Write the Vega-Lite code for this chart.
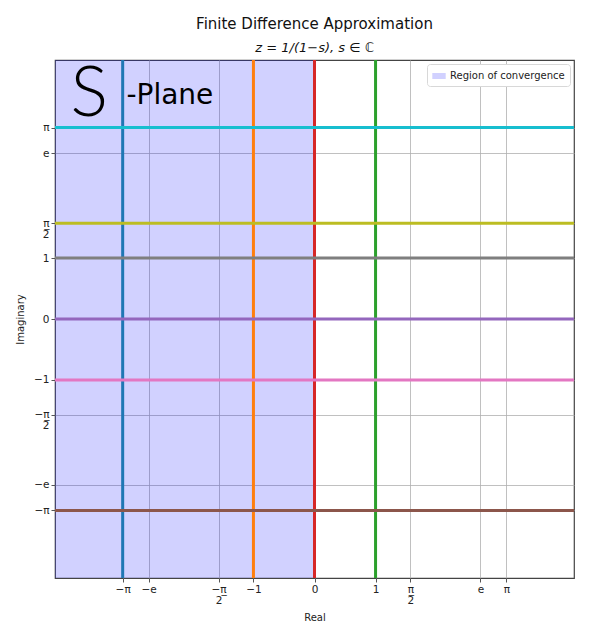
{
  "$schema": "https://vega.github.io/schema/vega-lite/v6.json",
  "autosize": "none",
  "width": 519,
  "height": 518,
  "padding": {"left": 55, "top": 60, "right": 26, "bottom": 50},
  "background": "white",
  "config": {
    "font": "DejaVu Sans",
    "view": {"stroke": "#444", "strokeWidth": 1.2},
    "axis": {
      "grid": true,
      "gridColor": "#b0b0b0",
      "gridWidth": 0.8,
      "domain": false,
      "tickColor": "#555",
      "tickSize": 4,
      "labelFont": "DejaVu Sans",
      "labelFontSize": 10.5,
      "labelColor": "#222",
      "titleFont": "DejaVu Sans",
      "titleFontSize": 10,
      "titleFontWeight": "normal",
      "titleColor": "#222",
      "labelLineHeight": 11
    }
  },
  "title": {
    "text": "Finite Difference Approximation",
    "subtitle": "z = 1/(1−s), s ∈ ℂ",
    "font": "DejaVu Sans",
    "fontSize": 15,
    "fontWeight": "normal",
    "color": "#111",
    "subtitleFont": "DejaVu Sans",
    "subtitleFontSize": 13,
    "subtitleFontStyle": "italic",
    "subtitleColor": "#111",
    "subtitlePadding": 10,
    "anchor": "middle",
    "offset": 4
  },
  "datasets": {
    "region": [{"x0": -4.25, "x1": 0, "label": "Region of convergence"}],
    "vlines": [
      {"name": "a", "x": -3.141592653589793},
      {"name": "b", "x": -1},
      {"name": "c", "x": 0},
      {"name": "d", "x": 1}
    ],
    "hlines": [
      {"name": "e", "y": 3.141592653589793},
      {"name": "f", "y": 1.5707963267948966},
      {"name": "g", "y": 1},
      {"name": "h", "y": 0},
      {"name": "i", "y": -1},
      {"name": "j", "y": -3.141592653589793}
    ],
    "texts": [
      {"t": "S", "x": -3.69, "y": 3.67, "kind": "big"},
      {"t": "-Plane", "x": -3.08, "y": 3.66, "kind": "small"}
    ]
  },
  "encoding": {},
  "layer": [
    {
      "data": {"name": "region"},
      "mark": {"type": "rect", "opacity": 0.18, "y": 0, "y2": {"expr": "height"}},
      "encoding": {
        "x": {
          "field": "x0", "type": "quantitative",
          "scale": {"domain": [-4.25, 4.25], "nice": false, "zero": false},
          "axis": {
            "title": "Real",
            "titlePadding": 7,
            "values": [-3.141592653589793, -2.718281828459045, -1.5707963267948966, -1, 0, 1, 1.5707963267948966, 2.718281828459045, 3.141592653589793],
            "labelExpr": "abs(datum.value + PI) < 0.001 ? '−π' : abs(datum.value + E) < 0.001 ? '−e' : abs(datum.value + PI/2) < 0.001 ? ['−π̲', '  2'] : abs(datum.value + 1) < 0.001 ? '−1' : abs(datum.value) < 0.001 ? '0' : abs(datum.value - 1) < 0.001 ? '1' : abs(datum.value - PI/2) < 0.001 ? ['π̲', '2'] : abs(datum.value - E) < 0.001 ? 'e' : 'π'"
          }
        },
        "x2": {"field": "x1"},
        "fill": {
          "field": "label", "type": "nominal",
          "scale": {"range": ["blue"]},
          "legend": {
            "title": null,
            "orient": "top-right",
            "offset": 4,
            "symbolType": "M-1,-0.45H1V0.45H-1Z",
            "symbolSize": 180,
            "symbolOpacity": 0.18,
            "symbolStrokeWidth": 0,
            "labelFont": "DejaVu Sans",
            "labelFontSize": 10,
            "labelColor": "#222",
            "strokeColor": "#d8d8d8",
            "fillColor": "white",
            "cornerRadius": 3,
            "padding": 5
          }
        }
      }
    },
    {
      "data": {"name": "vlines"},
      "mark": {"type": "rule", "strokeWidth": 3},
      "encoding": {
        "x": {"field": "x", "type": "quantitative"},
        "color": {
          "field": "name", "type": "nominal",
          "scale": {"domain": ["a", "b", "c", "d", "e", "f", "g", "h", "i", "j"], "range": ["#1f77b4", "#ff7f0e", "#d62728", "#2ca02c", "#17becf", "#bcbd22", "#7f7f7f", "#9467bd", "#e377c2", "#8c564b"]},
          "legend": null
        }
      }
    },
    {
      "data": {"name": "hlines"},
      "mark": {"type": "rule", "strokeWidth": 3},
      "encoding": {
        "y": {
          "field": "y", "type": "quantitative",
          "scale": {"domain": [-4.25, 4.25], "nice": false, "zero": false},
          "axis": {
            "title": "Imaginary",
            "titlePadding": 8,
            "values": [-3.141592653589793, -2.718281828459045, -1.5707963267948966, -1, 0, 1, 1.5707963267948966, 2.718281828459045, 3.141592653589793],
            "labelExpr": "abs(datum.value + PI) < 0.001 ? '−π' : abs(datum.value + E) < 0.001 ? '−e' : abs(datum.value + PI/2) < 0.001 ? ['−π̲', '  2'] : abs(datum.value + 1) < 0.001 ? '−1' : abs(datum.value) < 0.001 ? '0' : abs(datum.value - 1) < 0.001 ? '1' : abs(datum.value - PI/2) < 0.001 ? ['π̲', '2'] : abs(datum.value - E) < 0.001 ? 'e' : 'π'"
          }
        },
        "color": {"field": "name", "type": "nominal", "legend": null}
      }
    },
    {
      "data": {"name": "texts"},
      "transform": [{"filter": "datum.kind == 'big'"}],
      "mark": {"type": "text", "font": "Lato", "fontSize": 70, "fontWeight": 300, "baseline": "middle", "align": "center", "color": "black"},
      "encoding": {
        "x": {"field": "x", "type": "quantitative"},
        "y": {"field": "y", "type": "quantitative"},
        "text": {"field": "t"}
      }
    },
    {
      "data": {"name": "texts"},
      "transform": [{"filter": "datum.kind == 'small'"}],
      "mark": {"type": "text", "font": "DejaVu Sans", "fontSize": 28, "baseline": "middle", "align": "left", "color": "black"},
      "encoding": {
        "x": {"field": "x", "type": "quantitative"},
        "y": {"field": "y", "type": "quantitative"},
        "text": {"field": "t"}
      }
    }
  ]
}
